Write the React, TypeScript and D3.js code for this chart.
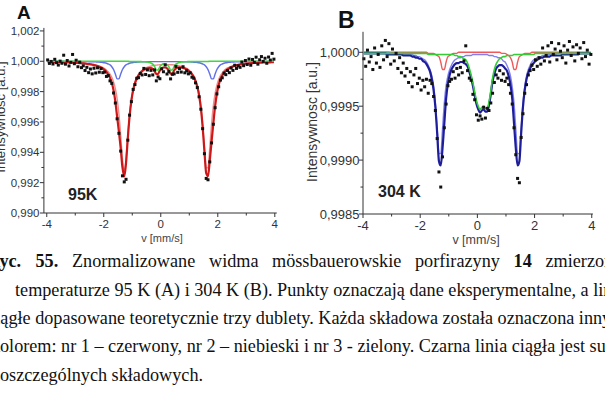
import React from "react";
import * as d3 from "d3";

// ---------- channel grid (128 velocity channels, -4..4 mm/s) ----------
const N_CHANNELS = 128;
const V_FIRST = -3.96875;
const V_LAST = 3.96875;

// ---------- Panel A (95 K) ----------
const A_DATA = [
  1.00009, 0.99986, 0.99999, 0.99982, 1.00013, 0.99991, 0.99975, 1.00001, 0.99987, 1.0004, 0.99981, 1.00005, 0.99969, 0.99993, 1.00045, 0.99984,
  1.00007, 0.99964, 0.99994, 0.99958, 0.9997, 0.99939, 0.9996, 0.99925, 0.99949, 0.99917, 0.99954, 0.99923, 0.99957, 0.99928, 0.99952, 0.99925,
  0.99929, 0.999, 0.99906, 0.99871, 0.99854, 0.99791, 0.99725, 0.99621, 0.99525, 0.99408, 0.99245, 0.99205, 0.99222, 0.9948, 0.99645, 0.99734,
  0.99814, 0.99847, 0.99888, 0.99892, 0.9992, 0.9991, 0.99953, 0.99913, 0.99943, 0.99905, 0.9994, 0.9991, 0.99943, 0.99871, 0.99897, 0.99885,
  0.9995, 0.99931, 0.99976, 0.99916, 0.99932, 0.99884, 0.99914, 0.99917, 0.99966, 0.99927, 0.99951, 0.99929, 0.99964, 0.99924, 0.99937, 0.99917,
  0.99924, 0.99895, 0.99888, 0.99858, 0.99827, 0.99766, 0.99684, 0.99556, 0.99391, 0.99228, 0.99219, 0.99337, 0.99462, 0.99585, 0.99694, 0.99785,
  0.99832, 0.99876, 0.99891, 0.99922, 0.99912, 0.99939, 0.99925, 0.99956, 0.9994, 0.99974, 0.99953, 0.9997, 0.9996, 0.99995, 0.99971, 1.00005,
  0.99979, 1.00015, 0.99974, 1.00012, 0.99993, 1.00027, 0.99981, 1.0001, 1.00031, 0.99999, 1.0002, 0.99987, 1.00028, 1.00008, 1.00052, 1.00014,
];
const A_SUM = [
  0.99995, 0.99995, 0.99995, 0.99995, 0.99995, 0.99994, 0.99994, 0.99994, 0.99993, 0.99993, 0.99993, 0.99992, 0.99992, 0.99991, 0.99991, 0.9999,
  0.99989, 0.99989, 0.99988, 0.99987, 0.99986, 0.99985, 0.99983, 0.99981, 0.9998, 0.99977, 0.99975, 0.99972, 0.99968, 0.99963, 0.99958, 0.99951,
  0.99942, 0.9993, 0.99913, 0.99891, 0.99858, 0.99808, 0.99734, 0.99635, 0.99536, 0.99427, 0.993, 0.99241, 0.9933, 0.99493, 0.99638, 0.9974,
  0.99809, 0.99854, 0.99885, 0.99907, 0.99923, 0.99934, 0.99943, 0.99949, 0.99953, 0.99955, 0.99955, 0.9995, 0.99937, 0.99916, 0.99917, 0.9994,
  0.99954, 0.99959, 0.99959, 0.99954, 0.99941, 0.99918, 0.99918, 0.9994, 0.99953, 0.99958, 0.9996, 0.99959, 0.99956, 0.99952, 0.99947, 0.99939,
  0.99929, 0.99915, 0.99897, 0.9987, 0.99832, 0.99776, 0.99692, 0.99568, 0.99406, 0.99262, 0.99243, 0.99346, 0.9947, 0.9959, 0.99704, 0.99788,
  0.99844, 0.99881, 0.99906, 0.99924, 0.99937, 0.99947, 0.99955, 0.99961, 0.99966, 0.9997, 0.99973, 0.99976, 0.99979, 0.9998, 0.99982, 0.99984,
  0.99985, 0.99986, 0.99987, 0.99988, 0.99989, 0.9999, 0.9999, 0.99991, 0.99991, 0.99992, 0.99992, 0.99993, 0.99993, 0.99993, 0.99994, 0.99994,
];
const A_RED = [
  0.99996, 0.99996, 0.99996, 0.99996, 0.99996, 0.99995, 0.99995, 0.99995, 0.99994, 0.99994, 0.99994, 0.99993, 0.99993, 0.99992, 0.99992, 0.99991,
  0.99991, 0.9999, 0.9999, 0.99989, 0.99988, 0.99987, 0.99985, 0.99984, 0.99983, 0.99981, 0.99979, 0.99976, 0.99973, 0.99969, 0.99965, 0.99959,
  0.99952, 0.99943, 0.99931, 0.99916, 0.99894, 0.99863, 0.99819, 0.99752, 0.99653, 0.99512, 0.99355, 0.99277, 0.99355, 0.99511, 0.99652, 0.99751,
  0.99818, 0.99862, 0.99892, 0.99913, 0.99929, 0.9994, 0.99949, 0.99956, 0.99961, 0.99965, 0.99968, 0.99971, 0.99973, 0.99975, 0.99976, 0.99977,
  0.99978, 0.99978, 0.99978, 0.99978, 0.99978, 0.99977, 0.99977, 0.99976, 0.99974, 0.99972, 0.9997, 0.99967, 0.99963, 0.99959, 0.99953, 0.99945,
  0.99935, 0.99922, 0.99904, 0.99878, 0.99842, 0.99788, 0.99706, 0.99586, 0.99431, 0.99298, 0.99298, 0.99431, 0.99587, 0.99707, 0.99789, 0.99843,
  0.9988, 0.99906, 0.99924, 0.99938, 0.99948, 0.99956, 0.99962, 0.99967, 0.99971, 0.99974, 0.99977, 0.9998, 0.99982, 0.99983, 0.99985, 0.99986,
  0.99987, 0.99988, 0.99989, 0.9999, 0.9999, 0.99991, 0.99992, 0.99992, 0.99993, 0.99993, 0.99993, 0.99994, 0.99994, 0.99994, 0.99995, 0.99995,
];
const A_BLUE = [
  1.0, 1.0, 1.0, 1.0, 1.0, 1.0, 1.0, 1.0, 1.0, 1.0, 0.99999, 0.99999, 0.99999, 0.99999, 0.99999, 0.99999,
  0.99999, 0.99999, 0.99999, 0.99998, 0.99998, 0.99998, 0.99998, 0.99997, 0.99997, 0.99997, 0.99997, 0.99996, 0.99995, 0.99995, 0.99993, 0.99992,
  0.9999, 0.99987, 0.99982, 0.99976, 0.99964, 0.99946, 0.99916, 0.99884, 0.99884, 0.99916, 0.99946, 0.99964, 0.99976, 0.99982, 0.99987, 0.9999,
  0.99992, 0.99993, 0.99994, 0.99995, 0.99996, 0.99996, 0.99997, 0.99997, 0.99997, 0.99998, 0.99998, 0.99998, 0.99998, 0.99998, 0.99998, 0.99998,
  0.99998, 0.99998, 0.99998, 0.99998, 0.99998, 0.99998, 0.99998, 0.99998, 0.99998, 0.99998, 0.99998, 0.99998, 0.99997, 0.99997, 0.99997, 0.99996,
  0.99996, 0.99995, 0.99994, 0.99993, 0.99992, 0.9999, 0.99987, 0.99982, 0.99976, 0.99964, 0.99945, 0.99916, 0.99884, 0.99884, 0.99916, 0.99946,
  0.99964, 0.99976, 0.99982, 0.99987, 0.9999, 0.99992, 0.99993, 0.99995, 0.99995, 0.99996, 0.99997, 0.99997, 0.99997, 0.99998, 0.99998, 0.99998,
  0.99998, 0.99998, 0.99998, 0.99999, 0.99999, 0.99999, 0.99999, 0.99999, 0.99999, 0.99999, 0.99999, 0.99999, 0.99999, 0.99999, 0.99999, 0.99999,
];
const A_GREEN = [
  1.0, 1.0, 1.0, 1.0, 1.0, 1.0, 1.0, 1.0, 1.0, 1.0, 1.0, 1.0, 1.0, 1.0, 1.0, 1.0,
  1.0, 1.0, 1.0, 1.0, 1.0, 1.0, 1.0, 1.0, 1.0, 1.0, 1.0, 1.0, 1.0, 1.0, 1.0, 1.0,
  1.0, 1.0, 1.0, 1.0, 1.0, 1.0, 1.0, 1.0, 1.0, 1.0, 1.0, 1.0, 1.0, 1.0, 0.99999, 0.99999,
  0.99999, 0.99999, 0.99998, 0.99998, 0.99998, 0.99997, 0.99997, 0.99996, 0.99995, 0.99992, 0.99988, 0.99981, 0.99966, 0.99943, 0.99943, 0.99965,
  0.99978, 0.99983, 0.99983, 0.99978, 0.99965, 0.99943, 0.99943, 0.99966, 0.99981, 0.99988, 0.99992, 0.99995, 0.99996, 0.99997, 0.99997, 0.99998,
  0.99998, 0.99998, 0.99999, 0.99999, 0.99999, 0.99999, 0.99999, 0.99999, 0.99999, 0.99999, 0.99999, 1.0, 1.0, 1.0, 1.0, 1.0,
  1.0, 1.0, 1.0, 1.0, 1.0, 1.0, 1.0, 1.0, 1.0, 1.0, 1.0, 1.0, 1.0, 1.0, 1.0, 1.0,
  1.0, 1.0, 1.0, 1.0, 1.0, 1.0, 1.0, 1.0, 1.0, 1.0, 1.0, 1.0, 1.0, 1.0, 1.0, 1.0,
];

// ---------- Panel B (304 K) ----------
const B_DATA = [
  0.99994, 0.99987, 1.00002, 0.99991, 0.99996, 0.99984, 1.00004, 0.9999, 0.99998, 0.99986, 1.00006, 0.99993, 1.00011, 0.99996, 1.00008, 0.99989,
  1.00003, 0.99992, 0.99999, 0.99985, 0.99995, 0.99981, 0.9999, 0.99978, 0.99985, 0.99972, 0.99982, 0.99968, 0.99979, 0.99985, 0.99971, 0.99976,
  0.99965, 0.99974, 0.99968, 0.99975, 0.99962, 0.99974, 0.99971, 0.99959, 0.99946, 0.9992, 0.99889, 0.99875, 0.99903, 0.9993, 0.99952, 0.99969,
  0.99973, 0.99975, 0.99982, 0.99976, 0.99985, 0.99979, 0.99986, 0.99981, 0.99992, 1.00006, 0.99983, 0.99976, 0.99974, 0.99961, 0.99956, 0.99942,
  0.99937, 0.99941, 0.99938, 0.99949, 0.99939, 0.99948, 0.99946, 0.99953, 0.99962, 0.99972, 0.99979, 0.99976, 0.99983, 0.99974, 0.9998, 0.99973,
  0.99976, 0.9997, 0.99962, 0.99952, 0.9993, 0.99905, 0.99883, 0.99879, 0.99921, 0.99943, 0.99962, 0.9997, 0.99979, 0.99983, 0.99988, 0.99984,
  0.99993, 0.99987, 0.99995, 0.99989, 1.00004, 0.99992, 0.99997, 1.00006, 0.99991, 1.00009, 0.99998, 1.00003, 0.99993, 1.00008, 1.00001, 0.99995,
  1.00006, 0.9999, 1.00002, 1.0001, 0.99997, 1.00005, 0.99992, 1.00007, 0.99999, 1.00004, 0.99994, 1.00009, 0.99996, 1.00002, 0.99989, 0.99998,
];
const B_SUM = [
  0.99999, 0.99999, 0.99999, 0.99999, 0.99999, 0.99999, 0.99999, 0.99999, 0.99999, 0.99999, 0.99999, 0.99999, 0.99999, 0.99998, 0.99998, 0.99998,
  0.99998, 0.99998, 0.99998, 0.99998, 0.99998, 0.99998, 0.99997, 0.99997, 0.99997, 0.99997, 0.99997, 0.99996, 0.99996, 0.99995, 0.99995, 0.99994,
  0.99994, 0.99992, 0.99991, 0.99989, 0.99986, 0.99982, 0.99975, 0.99965, 0.99949, 0.99925, 0.99899, 0.99895, 0.99911, 0.99934, 0.99957, 0.99971,
  0.99979, 0.99984, 0.99987, 0.99989, 0.9999, 0.9999, 0.99991, 0.99991, 0.9999, 0.99989, 0.99987, 0.99982, 0.99976, 0.99969, 0.9996, 0.99952,
  0.99947, 0.99944, 0.99946, 0.99947, 0.99945, 0.99945, 0.99951, 0.99961, 0.99973, 0.9998, 0.99985, 0.99987, 0.99988, 0.99988, 0.99987, 0.99985,
  0.99983, 0.99978, 0.9997, 0.99957, 0.99934, 0.99911, 0.99895, 0.99899, 0.99925, 0.99949, 0.99965, 0.99975, 0.99981, 0.99985, 0.99988, 0.9999,
  0.99992, 0.99993, 0.99994, 0.99995, 0.99995, 0.99996, 0.99996, 0.99996, 0.99996, 0.99997, 0.99997, 0.99997, 0.99997, 0.99997, 0.99997, 0.99998,
  0.99998, 0.99998, 0.99998, 0.99998, 0.99998, 0.99998, 0.99998, 0.99998, 0.99998, 0.99999, 0.99999, 0.99999, 0.99999, 0.99999, 0.99999, 0.99999,
];
const B_BLUE = [
  1.0, 1.0, 1.0, 1.0, 1.0, 1.0, 1.0, 1.0, 1.0, 1.0, 1.0, 1.0, 1.0, 1.0, 1.0, 0.99999,
  0.99999, 0.99999, 0.99999, 0.99999, 0.99999, 0.99999, 0.99998, 0.99998, 0.99998, 0.99998, 0.99998, 0.99998, 0.99997, 0.99997, 0.99996, 0.99996,
  0.99995, 0.99994, 0.99993, 0.99991, 0.99988, 0.99984, 0.99978, 0.99969, 0.99953, 0.99929, 0.99906, 0.99906, 0.99929, 0.99953, 0.99969, 0.99978,
  0.99984, 0.99988, 0.99991, 0.99993, 0.99994, 0.99995, 0.99995, 0.99996, 0.99996, 0.99997, 0.99997, 0.99997, 0.99997, 0.99998, 0.99998, 0.99998,
  0.99998, 0.99998, 0.99998, 0.99998, 0.99998, 0.99998, 0.99997, 0.99997, 0.99997, 0.99996, 0.99996, 0.99995, 0.99995, 0.99994, 0.99992, 0.99991,
  0.99988, 0.99984, 0.99978, 0.99968, 0.99953, 0.99929, 0.99906, 0.99906, 0.99929, 0.99953, 0.99968, 0.99978, 0.99984, 0.99988, 0.99991, 0.99993,
  0.99994, 0.99995, 0.99996, 0.99996, 0.99997, 0.99997, 0.99998, 0.99998, 0.99998, 0.99998, 0.99998, 0.99998, 0.99999, 0.99999, 0.99999, 0.99999,
  0.99999, 0.99999, 0.99999, 0.99999, 0.99999, 0.99999, 0.99999, 0.99999, 0.99999, 0.99999, 0.99999, 0.99999, 0.99999, 0.99999, 0.99999, 0.99999,
];
const B_RED = [
  1.0, 1.0, 1.0, 1.0, 1.0, 1.0, 1.0, 1.0, 1.0, 1.0, 1.0, 1.0, 1.0, 1.0, 1.0, 1.0,
  1.0, 1.0, 1.0, 1.0, 1.0, 1.0, 1.0, 1.0, 1.0, 1.0, 1.0, 1.0, 1.0, 1.0, 1.0, 1.0,
  1.0, 1.0, 1.0, 1.0, 0.99999, 0.99999, 0.99999, 0.99999, 0.99998, 0.99997, 0.99996, 0.99991, 0.99984, 0.99984, 0.99991, 0.99996,
  0.99997, 0.99998, 0.99999, 0.99999, 0.99999, 1.0, 1.0, 1.0, 1.0, 1.0, 1.0, 1.0, 1.0, 1.0, 1.0, 1.0,
  1.0, 1.0, 1.0, 1.0, 1.0, 1.0, 1.0, 1.0, 1.0, 1.0, 1.0, 1.0, 1.0, 0.99999, 0.99999, 0.99999,
  0.99998, 0.99997, 0.99995, 0.99991, 0.99984, 0.99984, 0.99991, 0.99996, 0.99997, 0.99998, 0.99999, 0.99999, 0.99999, 0.99999, 1.0, 1.0,
  1.0, 1.0, 1.0, 1.0, 1.0, 1.0, 1.0, 1.0, 1.0, 1.0, 1.0, 1.0, 1.0, 1.0, 1.0, 1.0,
  1.0, 1.0, 1.0, 1.0, 1.0, 1.0, 1.0, 1.0, 1.0, 1.0, 1.0, 1.0, 1.0, 1.0, 1.0, 1.0,
];
const B_GREEN = [
  0.99999, 0.99999, 0.99999, 0.99999, 0.99999, 0.99999, 0.99999, 0.99999, 0.99999, 0.99999, 0.99999, 0.99999, 0.99999, 0.99999, 0.99999, 0.99999,
  0.99999, 0.99999, 0.99999, 0.99999, 0.99999, 0.99999, 0.99999, 0.99999, 0.99999, 0.99999, 0.99999, 0.99999, 0.99999, 0.99999, 0.99999, 0.99999,
  0.99999, 0.99999, 0.99999, 0.99999, 0.99998, 0.99998, 0.99998, 0.99998, 0.99998, 0.99998, 0.99998, 0.99998, 0.99998, 0.99998, 0.99998, 0.99998,
  0.99998, 0.99998, 0.99998, 0.99997, 0.99997, 0.99996, 0.99996, 0.99995, 0.99994, 0.99993, 0.9999, 0.99985, 0.99979, 0.99972, 0.99963, 0.99955,
  0.9995, 0.99947, 0.99949, 0.9995, 0.99948, 0.99948, 0.99954, 0.99964, 0.99976, 0.99984, 0.99989, 0.99992, 0.99994, 0.99995, 0.99996, 0.99996,
  0.99997, 0.99997, 0.99997, 0.99997, 0.99998, 0.99998, 0.99998, 0.99998, 0.99998, 0.99998, 0.99998, 0.99998, 0.99998, 0.99998, 0.99998, 0.99998,
  0.99999, 0.99999, 0.99999, 0.99999, 0.99999, 0.99999, 0.99999, 0.99999, 0.99999, 0.99999, 0.99999, 0.99999, 0.99999, 0.99999, 0.99999, 0.99999,
  0.99999, 0.99999, 0.99999, 0.99999, 0.99999, 0.99999, 0.99999, 0.99999, 0.99999, 0.99999, 0.99999, 0.99999, 0.99999, 0.99999, 0.99999, 0.99999,
];

// ---------- ticks ----------
const X_MAJOR = [-4, -2, 0, 2, 4];
const X_LABELS = ["-4", "-2", "0", "2", "4"];
const X_MINOR = [-3, -1, 1, 3];
const A_Y_MAJOR = [0.99, 0.992, 0.994, 0.996, 0.998, 1.0, 1.002];
const A_Y_LABELS = ["0,990", "0,992", "0,994", "0,996", "0,998", "1,000", "1,002"];
const A_Y_MINOR = [0.991, 0.993, 0.995, 0.997, 0.999, 1.001];
const B_Y_MAJOR = [0.9985, 0.999, 0.9995, 1.0];
const B_Y_LABELS = ["0,9985", "0,9990", "0,9995", "1,0000"];
const B_Y_MINOR = [0.99875, 0.99925, 0.99975];

const Y_TITLE = "Intensywnosc [a.u.]";
const X_TITLE = "v [mm/s]";

const CAPTION_L1 = [
  { t: "Ryc.", b: true },
  { t: "55.", b: true },
  { t: "Znormalizowane", b: false },
  { t: "widma", b: false },
  { t: "mössbauerowskie", b: false },
  { t: "porfirazyny", b: false },
  { t: "14", b: true },
  { t: "zmierzonej", b: false },
];
const CAPTION_REST = [
  "temperaturze 95 K (A) i 304 K (B). Punkty oznaczają dane eksperymentalne, a linie",
  "ciągłe dopasowane teoretycznie trzy dublety. Każda składowa została oznaczona innym",
  "kolorem: nr 1 – czerwony, nr 2 – niebieski i nr 3 - zielony. Czarna linia ciągła jest sumą",
  "poszczególnych składowych.",
];

const SANS = "'Liberation Sans', Arial, sans-serif";
const SERIF = "'Liberation Serif', 'Times New Roman', serif";

type Curve = { values: number[]; color: string; width: number };

type PanelProps = {
  xDomain: [number, number];
  xRange: [number, number];
  yDomain: [number, number];
  yRange: [number, number];
  curves: Curve[];
  data: number[];
  yMajor: number[];
  yLabels: string[];
  yMinor: number[];
  tickFont: number;
  yLabelX: number;
  xLabelY: number;
  letter: string;
  letterX: number;
  letterY: number;
  letterSize: number;
  temp: string;
  tempX: number;
  tempY: number;
  yTitleX: number;
  yTitleY: number;
  yTitleSize: number;
  xTitleX: number;
  xTitleY: number;
  xTitleSize: number;
};

function Panel(p: PanelProps) {
  const x = d3.scaleLinear().domain(p.xDomain).range(p.xRange);
  const y = d3.scaleLinear().domain(p.yDomain).range(p.yRange);
  const chan = d3.scaleLinear().domain([0, N_CHANNELS - 1]).range([V_FIRST, V_LAST]);
  const lineGen = d3
    .line<number>()
    .x((_, i) => x(chan(i)))
    .y((d) => y(d))
    .curve(d3.curveMonotoneX);
  const x0 = p.xRange[0];
  const yb = p.yRange[0];
  const axisColor = "#333";
  const ps = 3;
  return (
    <g>
      {p.curves.map((c, k) => (
        <path key={k} d={lineGen(c.values) || ""} fill="none" stroke={c.color} strokeWidth={c.width} strokeLinejoin="round" />
      ))}
      {p.data.map((d, i) => (
        <rect key={i} x={x(chan(i)) - ps / 2} y={y(d) - ps / 2} width={ps} height={ps} fill="#111" />
      ))}
      {/* axes */}
      <line x1={x0} x2={x0} y1={p.yRange[1]} y2={yb} stroke={axisColor} strokeWidth={1} />
      <line x1={x0} x2={p.xRange[1]} y1={yb} y2={yb} stroke={axisColor} strokeWidth={1} />
      {p.yMajor.map((v, k) => (
        <g key={"ym" + k}>
          <line x1={x0 - 4} x2={x0} y1={y(v)} y2={y(v)} stroke={axisColor} />
          <text x={p.yLabelX} y={y(v)} dy="0.35em" textAnchor="end" fontSize={p.tickFont} fontFamily={SANS} fill="#333">
            {p.yLabels[k]}
          </text>
        </g>
      ))}
      {p.yMinor.map((v, k) => (
        <line key={"yn" + k} x1={x0 - 2.5} x2={x0} y1={y(v)} y2={y(v)} stroke={axisColor} />
      ))}
      {X_MAJOR.map((v, k) => (
        <g key={"xm" + k}>
          <line x1={x(v)} x2={x(v)} y1={yb} y2={yb + 4} stroke={axisColor} />
          <text x={x(v)} y={p.xLabelY} textAnchor="middle" fontSize={p.tickFont} fontFamily={SANS} fill="#333">
            {X_LABELS[k]}
          </text>
        </g>
      ))}
      {X_MINOR.map((v, k) => (
        <line key={"xn" + k} x1={x(v)} x2={x(v)} y1={yb} y2={yb + 2.5} stroke={axisColor} />
      ))}
      <text x={p.letterX} y={p.letterY} fontSize={p.letterSize} fontWeight="bold" fontFamily={SANS} fill="#111">
        {p.letter}
      </text>
      <text x={p.tempX} y={p.tempY} fontSize={16} fontWeight="bold" fontFamily={SANS} fill="#222">
        {p.temp}
      </text>
      <text
        transform={`translate(${p.yTitleX},${p.yTitleY}) rotate(-90)`}
        textAnchor="middle"
        fontSize={p.yTitleSize}
        fontFamily={SANS}
        fill="#333"
      >
        {Y_TITLE}
      </text>
      <text x={p.xTitleX} y={p.xTitleY} textAnchor="middle" fontSize={p.xTitleSize} fontFamily={SANS} fill="#444">
        {X_TITLE}
      </text>
    </g>
  );
}

export default function App() {
  const l1x = [-13.1, 35.5, 72, 209, 272, 415, 513.6, 545.5];
  const restX = [15, -12.8, -9.1, -9.1];
  const baselines = [267, 296, 324, 352, 381];
  return (
    <svg
      width={605}
      height={403}
      viewBox="0 0 605 403"
      style={{ position: "absolute", left: 0, top: 0, background: "#fff", display: "block" }}
    >
      <rect x={0} y={0} width={605} height={403} fill="#fff" />
      <Panel
        xDomain={[-4.1, 4.07]}
        xRange={[43.9, 276.8]}
        yDomain={[0.99, 1.0022]}
        yRange={[213, 27.9]}
        curves={[
          { values: A_RED, color: "#f28a8a", width: 1.4 },
          { values: A_BLUE, color: "#6070e8", width: 1.4 },
          { values: A_SUM, color: "#cc1818", width: 2.2 },
          { values: A_GREEN, color: "#3fd83f", width: 1.6 },
        ]}
        data={A_DATA}
        yMajor={A_Y_MAJOR}
        yLabels={A_Y_LABELS}
        yMinor={A_Y_MINOR}
        tickFont={11.5}
        yLabelX={39.5}
        xLabelY={228}
        letter="A"
        letterX={17}
        letterY={18.5}
        letterSize={19}
        temp="95K"
        tempX={68}
        tempY={200}
        yTitleX={5}
        yTitleY={117}
        yTitleSize={13}
        xTitleX={162}
        xTitleY={242}
        xTitleSize={11}
      />
      <Panel
        xDomain={[-4, 4.04]}
        xRange={[363, 592.9]}
        yDomain={[0.9985, 1.00019]}
        yRange={[214, 31.8]}
        curves={[
          { values: B_RED, color: "#ef5a5a", width: 1.4 },
          { values: B_BLUE, color: "#8080f0", width: 1.4 },
          { values: B_SUM, color: "#1e1e9a", width: 2.2 },
          { values: B_GREEN, color: "#36cc36", width: 1.6 },
        ]}
        data={B_DATA}
        yMajor={B_Y_MAJOR}
        yLabels={B_Y_LABELS}
        yMinor={B_Y_MINOR}
        tickFont={13}
        yLabelX={359.5}
        xLabelY={230}
        letter="B"
        letterX={338}
        letterY={28}
        letterSize={23}
        temp="304 K"
        tempX={378}
        tempY={197}
        yTitleX={316.5}
        yTitleY={122}
        yTitleSize={14}
        xTitleX={476}
        xTitleY={243.5}
        xTitleSize={12.5}
      />
      {/* caption */}
      <g fontFamily={SERIF} fontSize={18.2} fill="#111">
        {CAPTION_L1.map((w, k) => (
          <text key={"c1" + k} x={l1x[k]} y={baselines[0]} fontWeight={w.b ? "bold" : "normal"}>
            {w.t}
          </text>
        ))}
        {CAPTION_REST.map((line, k) => (
          <text key={"cr" + k} x={restX[k]} y={baselines[k + 1]}>
            {line}
          </text>
        ))}
      </g>
    </svg>
  );
}
